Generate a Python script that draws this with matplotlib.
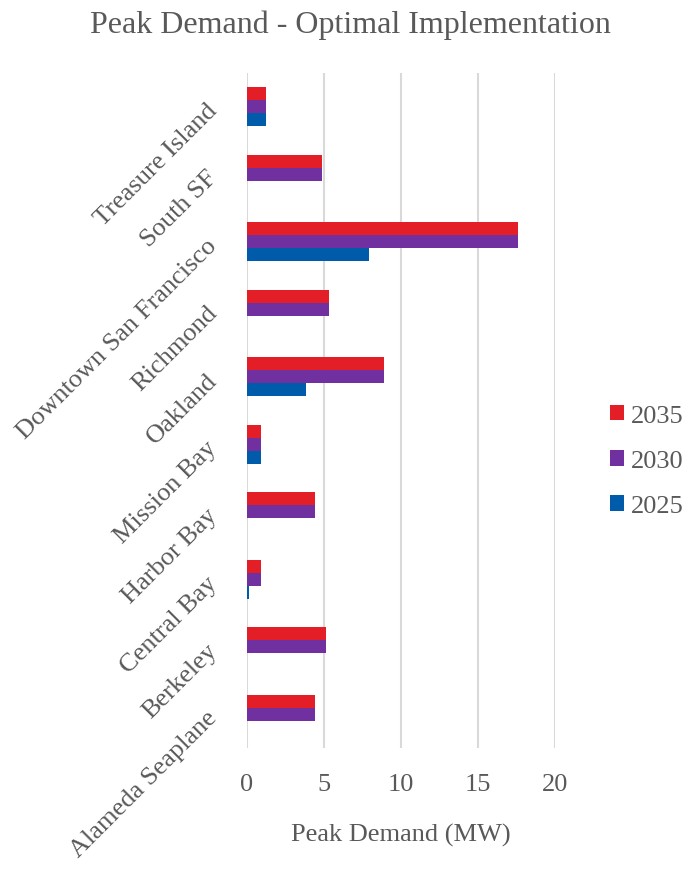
import matplotlib.pyplot as plt
import numpy as np

plt.rcParams['font.family'] = ['Liberation Serif', 'DejaVu Serif']

# bottom to top
sites = ["Alameda Seaplane", "Berkeley", "Central Bay", "Harbor Bay", "Mission Bay",
         "Oakland", "Richmond", "Downtown San Francisco", "South SF", "Treasure Island"]
mw_2035 = [4.4, 5.1, 0.9, 4.4, 0.9, 8.9, 5.3, 17.6, 4.9, 1.2]
mw_2030 = [4.4, 5.1, 0.9, 4.4, 0.9, 8.9, 5.3, 17.6, 4.9, 1.2]
mw_2025 = [0, 0, 0.1, 0, 0.9, 3.8, 0, 7.9, 0, 1.2]

years = ["2035", "2030", "2025"]
colors = ["#E41E26", "#7030A0", "#005BAA"]
txt = "#595959"

fig = plt.figure(figsize=(7, 8.7), dpi=100)
ax = fig.add_axes([0.3529, 0.139, 0.44, 0.776])

y = np.arange(len(sites))
h = 0.193
for vals, off, c, lab in zip([mw_2035, mw_2030, mw_2025], [h, 0, -h], colors, years):
    ax.barh(y + off, vals, height=h, color=c, label=lab, zorder=3)

ax.set_xlim(0, 20)
ax.set_ylim(-0.5, len(sites) - 0.5)
ax.set_xticks([0, 5, 10, 15, 20])
ax.set_yticks(y)
ax.set_yticklabels(sites, rotation=45, ha='right', va='center', rotation_mode='anchor')
ax.grid(axis='x', color='#D9D9D9', linewidth=1.5, zorder=0)
for s in ax.spines.values():
    s.set_visible(False)
ax.tick_params(length=0, labelsize=19, colors=txt)
ax.tick_params(axis='y', pad=24)
ax.tick_params(axis='x', pad=18)
ax.set_xlabel("Peak Demand (MW)", fontsize=19, color=txt, labelpad=20)
fig.suptitle("Peak Demand - Optimal Implementation", fontsize=23, color=txt, y=0.988)

ax.legend(loc='center left', bbox_to_anchor=(0.871, 0.469), bbox_transform=fig.transFigure,
          frameon=False, fontsize=19, labelcolor=txt, borderpad=0, borderaxespad=0,
          handlelength=0.55, handleheight=0.55, handletextpad=0.25, labelspacing=0.87)

fig.savefig("out.png")
